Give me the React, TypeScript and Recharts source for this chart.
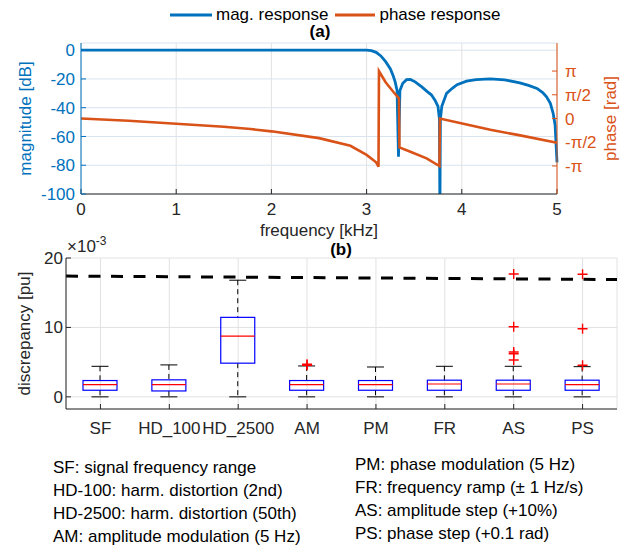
import React from 'react';
import {
  Bar,
  CartesianGrid,
  ComposedChart,
  Legend,
  Line,
  LineChart,
  ReferenceLine,
  Scatter,
  XAxis,
  YAxis,
} from 'recharts';

const FONT = '"Liberation Sans", Arial, Helvetica, sans-serif';
const MAG_COLOR = '#0072BD';
const PHASE_COLOR = '#D95319';
const INK = '#262626';

// (a) filter response, frequency in kHz
const magFreq = [
  0, 0.5, 1, 1.5, 2, 2.5, 3, 3.05, 3.1, 3.15, 3.2, 3.25, 3.28, 3.3, 3.32, 3.335, 3.35, 3.38, 3.42, 3.46,
  3.51, 3.58, 3.64, 3.68, 3.72, 3.75, 3.765, 3.77, 3.775, 3.79, 3.84, 3.9, 3.95, 4.05, 4.15, 4.3, 4.45,
  4.61, 4.7, 4.79, 4.85, 4.89, 4.93, 4.96, 4.98, 5,
];
const magDb = [
  0, 0, 0, 0, 0, 0, 0, -0.3, -1.5, -4, -8, -13, -18, -22, -28, -74, -28, -23, -20.5, -20.3,
  -22, -25.5, -29, -31, -35, -39, -48, -115, -48, -39, -30, -26.5, -24, -21.5, -20.4, -20, -20.6,
  -22.7, -24.5, -26.6, -29.5, -32.4, -37, -44, -52, -78,
];
const phaseFreq = [
  0, 0.5, 1, 1.5, 1.78, 2, 2.5, 2.83, 3, 3.1, 3.125, 3.13, 3.2, 3.28, 3.34, 3.345, 3.46, 3.63, 3.765,
  3.77, 3.98, 4.3, 4.6, 5,
];
const phaseRad = [
  0, -0.15, -0.35, -0.55, -0.7, -0.85, -1.3, -1.81, -2.41, -2.9, -3.19, 3.13, 2.4, 1.77, 1.33, -1.91,
  -2.2, -2.64, -3.15, 0, -0.3, -0.75, -1.1, -1.6,
];
const freqTicks = [0, 1, 2, 3, 4, 5];
const magTicks = [-100, -80, -60, -40, -20, 0];
const phaseTicks = [-Math.PI, -Math.PI / 2, 0, Math.PI / 2, Math.PI];
const phaseTickLabels = ['-π', '-π/2', '0', 'π/2', 'π'];

// (b) discrepancy per test case, in units of 1e-3 pu
const tests = ['SF', 'HD_100', 'HD_2500', 'AM', 'PM', 'FR', 'AS', 'PS'];
const whiskerLow = [0, 0, 0, 0, 0, 0, 0, 0];
const quart1 = [0.95, 0.85, 4.85, 0.95, 0.95, 0.95, 0.95, 0.95];
const medians = [1.75, 1.75, 8.75, 1.75, 1.75, 1.85, 1.85, 1.75];
const quart3 = [2.35, 2.45, 11.45, 2.35, 2.35, 2.4, 2.4, 2.4];
const whiskerHigh = [4.4, 4.6, 16.8, 4.45, 4.3, 4.4, 4.4, 4.35];
const outlierTest = ['AM', 'AM', 'AS', 'AS', 'AS', 'AS', 'AS', 'PS', 'PS', 'PS'];
const outlierValue = [4.55, 4.7, 17.7, 10.1, 6.45, 6.2, 5.3, 17.65, 9.8, 4.55];
const limitEnds = [17.4, 16.9];
const discTicks = [0, 10, 20];

const legendItems = [
  { label: 'mag. response', color: MAG_COLOR, width: 42 },
  { label: 'phase response', color: PHASE_COLOR, width: 40 },
];

const notesLeft = [
  'SF: signal frequency range',
  'HD-100: harm. distortion (2nd)',
  'HD-2500: harm. distortion (50th)',
  'AM: amplitude modulation (5 Hz)',
];
const notesRight = [
  'PM: phase modulation (5 Hz)',
  'FR: frequency ramp (± 1 Hz/s)',
  'AS: amplitude step (+10%)',
  'PS: phase step (+0.1 rad)',
];

const magData = magFreq.map((f, i) => ({ f, db: magDb[i] }));
const phaseData = phaseFreq.map((f, i) => ({ f, rad: phaseRad[i] }));

const boxRows = tests.map((name, i) => ({
  pos: i + 1,
  name,
  lo: whiskerLow[i],
  q1: quart1[i],
  med: medians[i],
  q3: quart3[i],
  hi: whiskerHigh[i],
}));
const outlierRows = outlierTest.map((t, i) => ({ pos: tests.indexOf(t) + 1, v: outlierValue[i] }));
const limitSegment = [
  { x: 0.5, y: limitEnds[0] },
  { x: tests.length + 0.5, y: limitEnds[1] },
];

const tickFont = { fontSize: 17, fontFamily: FONT };

function BoxShape(props: any) {
  const { x, y, width, height, payload } = props;
  const { lo, q1, med, q3, hi } = payload;
  const top = Math.min(y, y + height);
  const bottom = Math.max(y, y + height);
  const py = (v: number) => bottom - ((v - lo) / (hi - lo)) * (bottom - top);
  const cx = x + width / 2;
  const cap = width / 4;
  return (
    <g>
      <line x1={cx} x2={cx} y1={py(hi)} y2={py(q3)} stroke="#000" strokeDasharray="5 4" />
      <line x1={cx} x2={cx} y1={py(q1)} y2={py(lo)} stroke="#000" strokeDasharray="5 4" />
      <line x1={cx - cap} x2={cx + cap} y1={py(hi)} y2={py(hi)} stroke="#000" />
      <line x1={cx - cap} x2={cx + cap} y1={py(lo)} y2={py(lo)} stroke="#000" />
      <rect x={x} y={py(q3)} width={width} height={py(q1) - py(q3)} fill="none" stroke="#0000ff" strokeWidth={1.2} />
      <line x1={x} x2={x + width} y1={py(med)} y2={py(med)} stroke="#ff0000" strokeWidth={1.2} />
    </g>
  );
}

function Cross(props: any) {
  const { cx, cy } = props;
  return (
    <path
      d={`M${cx - 5},${cy}H${cx + 5}M${cx},${cy - 5}V${cy + 5}`}
      stroke="#ff0000"
      strokeWidth={1.4}
      fill="none"
    />
  );
}

function ResponseLegend() {
  return (
    <div style={{ display: 'flex', alignItems: 'center', fontFamily: FONT, fontSize: 17, color: '#000' }}>
      {legendItems.map((item) => (
        <div key={item.label} style={{ display: 'flex', alignItems: 'center', marginRight: 7 }}>
          <svg width={item.width} height={6} style={{ marginRight: 4 }}>
            <line x1={0} x2={item.width} y1={3} y2={3} stroke={item.color} strokeWidth={3} />
          </svg>
          <span>{item.label}</span>
        </div>
      ))}
    </div>
  );
}

const abs = (left: number, top: number): React.CSSProperties => ({
  position: 'absolute',
  left,
  top,
  fontFamily: FONT,
  color: '#000',
  whiteSpace: 'nowrap',
});

export default function App() {
  return (
    <div style={{ position: 'relative', width: 641, height: 548, background: '#fff', overflow: 'hidden' }}>
      <style>{'body{margin:0}'}</style>

      <div style={{ position: 'absolute', left: 0, top: 0 }}>
        <LineChart width={641} height={245} margin={{ top: 43, right: 0, bottom: 0, left: 0 }}>
          <CartesianGrid yAxisId="mag" vertical={false} stroke="#d8e4ef" />
          <CartesianGrid yAxisId="mag" horizontal={false} stroke="#e2e2e2" />
          <XAxis
            dataKey="f"
            type="number"
            domain={[0, 5]}
            ticks={freqTicks}
            interval={0}
            height={51}
            stroke={INK}
            tickSize={-5}
            tickMargin={14}
            tick={{ ...tickFont, fill: INK }}
            label={{ value: 'frequency [kHz]', position: 'insideBottom', offset: 9, style: { ...tickFont, fill: INK } }}
          />
          <XAxis
            xAxisId="top"
            orientation="top"
            type="number"
            domain={[0, 5]}
            ticks={freqTicks}
            height={0}
            stroke={INK}
            tickSize={-5}
            tick={false}
          />
          <YAxis
            yAxisId="mag"
            domain={[-100, 5]}
            ticks={magTicks}
            interval={0}
            allowDataOverflow
            width={81}
            stroke={MAG_COLOR}
            tickSize={-5}
            tickMargin={11}
            tick={{ ...tickFont, fill: MAG_COLOR }}
            label={{
              value: 'magnitude [dB]',
              angle: -90,
              position: 'insideLeft',
              offset: 25,
              style: { ...tickFont, fill: MAG_COLOR, textAnchor: 'middle' },
            }}
          />
          <YAxis
            yAxisId="magMirror"
            orientation="right"
            domain={[-100, 5]}
            ticks={magTicks}
            width={0}
            axisLine={false}
            stroke={MAG_COLOR}
            tickSize={-5}
            tick={false}
          />
          <YAxis
            yAxisId="ph"
            orientation="right"
            domain={[-5, 5]}
            ticks={phaseTicks}
            interval={0}
            allowDataOverflow
            width={84}
            stroke={PHASE_COLOR}
            tickSize={-5}
            tickMargin={13}
            tickFormatter={(v: number) => phaseTickLabels[phaseTicks.indexOf(v)] ?? ''}
            tick={{ ...tickFont, fill: PHASE_COLOR }}
            label={{
              value: 'phase [rad]',
              angle: -90,
              position: 'insideRight',
              offset: 31,
              style: { ...tickFont, fill: PHASE_COLOR, textAnchor: 'middle' },
            }}
          />
          <Legend
            verticalAlign="middle"
            content={() => <ResponseLegend />}
            wrapperStyle={{ top: 5, left: 170, width: 360 }}
          />
          <Line
            yAxisId="mag"
            data={magData}
            dataKey="db"
            name="mag. response"
            type="linear"
            stroke={MAG_COLOR}
            strokeWidth={2.8}
            dot={false}
            isAnimationActive={false}
          />
          <Line
            yAxisId="ph"
            data={phaseData}
            dataKey="rad"
            name="phase response"
            type="linear"
            stroke={PHASE_COLOR}
            strokeWidth={2.6}
            dot={false}
            isAnimationActive={false}
          />
        </LineChart>
      </div>

      <div style={{ ...abs(300, 23), width: 40, textAlign: 'center', fontSize: 17, fontWeight: 'bold', lineHeight: '17px' }}>
        (a)
      </div>

      <div style={{ position: 'absolute', left: 0, top: 240 }}>
        <ComposedChart width={641} height={210} data={boxRows} margin={{ top: 18, right: 24, bottom: 0, left: 0 }}>
          <CartesianGrid stroke="#e2e2e2" />
          <XAxis
            dataKey="pos"
            type="number"
            domain={[0.5, tests.length + 0.5]}
            allowDataOverflow
            ticks={boxRows.map((r) => r.pos)}
            interval={0}
            height={41}
            stroke={INK}
            tickSize={-5}
            tickMargin={18}
            tickFormatter={(v: number) => tests[v - 1] ?? ''}
            tick={{ ...tickFont, fill: INK }}
          />
          <XAxis
            xAxisId="top"
            orientation="top"
            type="number"
            domain={[0.5, tests.length + 0.5]}
            allowDataOverflow
            ticks={boxRows.map((r) => r.pos)}
            height={0}
            stroke={INK}
            tickSize={-5}
            tick={false}
          />
          <YAxis
            domain={[-1.75, 20]}
            allowDataOverflow
            ticks={discTicks}
            interval={0}
            width={66}
            stroke={INK}
            tickSize={-5}
            tickMargin={8}
            tick={{ ...tickFont, fill: INK }}
            label={{
              value: 'discrepancy [pu]',
              angle: -90,
              position: 'insideLeft',
              offset: 24,
              style: { ...tickFont, fill: INK, textAnchor: 'middle' },
            }}
          />
          <YAxis
            yAxisId="frame"
            orientation="right"
            domain={[-1.75, 20]}
            allowDataOverflow
            ticks={discTicks}
            width={0}
            stroke={INK}
            tickSize={-5}
            tick={false}
          />
          <Bar
            dataKey={(d: any) => [d.lo, d.hi]}
            barSize={34}
            shape={BoxShape}
            isAnimationActive={false}
          />
          <Scatter data={outlierRows} dataKey="v" shape={Cross} isAnimationActive={false} />
          <ReferenceLine
            segment={limitSegment}
            stroke="#000"
            strokeWidth={3}
            strokeDasharray="12 10.5"
            ifOverflow="visible"
          />
        </ComposedChart>
      </div>

      <div style={{ ...abs(321, 242), width: 40, textAlign: 'center', fontSize: 17, fontWeight: 'bold', lineHeight: '16px' }}>
        (b)
      </div>
      <div style={{ ...abs(67, 238), fontSize: 17, lineHeight: '17px', color: INK }}>
        ×10<span style={{ fontSize: 12, position: 'relative', top: -7 }}>-3</span>
      </div>

      <div style={{ ...abs(53, 456), fontSize: 17, lineHeight: '23px' }}>
        {notesLeft.map((t) => (
          <div key={t}>{t}</div>
        ))}
      </div>
      <div style={{ ...abs(355, 453), fontSize: 17, lineHeight: '23px' }}>
        {notesRight.map((t) => (
          <div key={t}>{t}</div>
        ))}
      </div>
    </div>
  );
}
